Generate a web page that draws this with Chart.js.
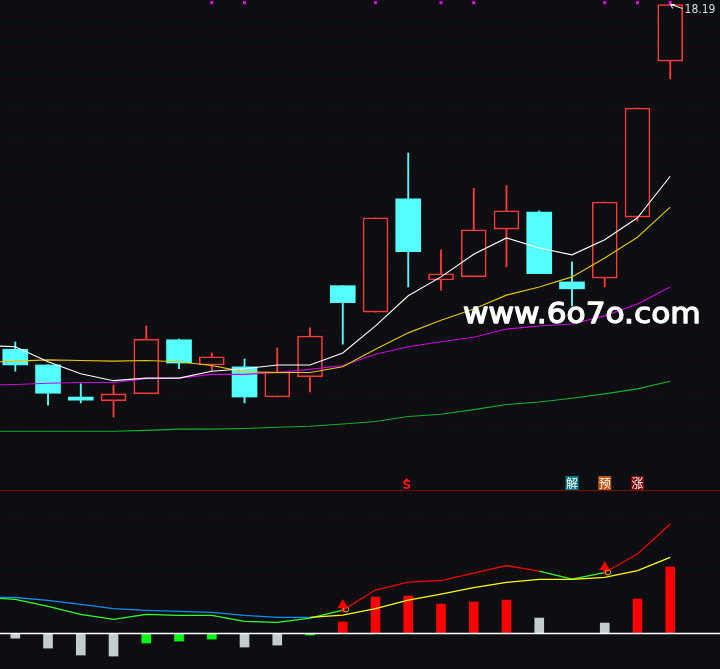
<!DOCTYPE html>
<html>
<head>
<meta charset="utf-8">
<title>K-line</title>
<script src="https://cdn.jsdelivr.net/npm/chart.js@4/dist/chart.umd.js"></script>
<style>
  html, body { margin: 0; padding: 0; background: #0d0e11; overflow: hidden; }
  canvas { display: block; }
</style>
</head>
<body>
<canvas id="kline" width="720" height="669"></canvas>
<script>
// === Data ===
const candleOpen  = [12.71, 12.46, 11.95, 11.89, 12.00, 12.86, 12.46, 12.43, 11.95, 12.27, 13.72, 13.30, 15.10, 13.81, 13.86, 14.62, 14.89, 13.78, 13.84, 14.81, 17.29];
const candleClose = [12.46, 12.01, 11.90, 12.00, 12.87, 12.49, 12.59, 11.95, 12.35, 12.92, 13.45, 14.80, 14.26, 13.91, 14.61, 14.91, 13.91, 13.67, 15.05, 16.545, 18.19];
const candleHigh  = [12.825, 12.46, 12.16, 12.14, 13.08, 12.87, 12.65, 12.555, 12.73, 13.05, 13.72, 14.80, 15.83, 14.29, 15.27, 15.31, 14.91, 14.10, 15.05, 16.545, 18.19];
const candleLow   = [12.36, 11.82, 11.855, 11.63, 12.00, 12.40, 12.36, 11.855, 11.95, 12.03, 12.79, 13.30, 13.70, 13.65, 13.86, 14.02, 13.91, 13.40, 13.70, 14.75, 17.01];

// moving averages start one bar before the first candle
const ma5  = [12.77, 12.75, 12.51, 12.32, 12.21, 12.25, 12.25, 12.36, 12.40, 12.46, 12.46, 12.65, 13.08, 13.56, 13.86, 14.22, 14.48, 14.32, 14.21, 14.45, 14.80, 15.46];
const ma10 = [12.50, 12.52, 12.54, 12.53, 12.52, 12.53, 12.51, 12.45, 12.35, 12.34, 12.34, 12.43, 12.71, 12.97, 13.17, 13.35, 13.57, 13.70, 13.86, 14.16, 14.49, 14.97];
const ma20 = [12.14, 12.15, 12.17, 12.18, 12.18, 12.24, 12.25, 12.31, 12.31, 12.34, 12.39, 12.45, 12.63, 12.75, 12.83, 12.90, 13.03, 13.08, 13.11, 13.24, 13.43, 13.70];
const ma60 = [11.405, 11.405, 11.405, 11.405, 11.405, 11.42, 11.44, 11.44, 11.45, 11.47, 11.485, 11.52, 11.56, 11.64, 11.675, 11.75, 11.83, 11.87, 11.93, 12.00, 12.08, 12.20];

const signalBars = [6, 7, 11, 13, 14, 18, 19, 20];
const signalLevel = 18.22;

const oscFast = [0.313, 0.296, 0.235, 0.166, 0.123, 0.166, 0.158, 0.158, 0.106, 0.097, 0.134, 0.203, 0.377, 0.446, 0.459, 0.524, 0.589, 0.541, 0.472, 0.528, 0.688, 0.948];
const oscSlow = [0.313, 0.312, 0.287, 0.253, 0.215, 0.201, 0.192, 0.184, 0.158, 0.140, 0.140, 0.160, 0.215, 0.290, 0.342, 0.397, 0.443, 0.469, 0.469, 0.487, 0.544, 0.660];

const histRed   = [null, null, null, null, null, null, null, null, null, null, 0.10, 0.316, 0.325, 0.255, 0.273, 0.29, null, null, null, 0.299, 0.576];
const histGrey  = [-0.04, -0.126, -0.186, -0.195, null, null, null, -0.117, -0.10, null, null, null, null, null, null, null, 0.134, null, 0.091, null, null];
const histGreen = [null, null, null, null, -0.082, -0.065, -0.048, null, null, -0.013, null, null, null, null, null, null, null, null, null, null, null];

const arrowBars = [10, 18];
const arrowHead = [0.247, 0.576];
const arrowTail = [0.186, 0.515];
const ringBars = [10.1, 18.1];
const ringLevel = [0.209, 0.53];

const osc_separator = 1.238;
const priceLabel = "18.19";
const watermark = "www.6o7o.com";
const badges = [
  { bar: 17, text: "解", color: "#0a7d84" },
  { bar: 18, text: "预", color: "#bf5410" },
  { bar: 19, text: "涨", color: "#7a0008" },
];
const dollarBar = 12;

// === Colours ===
const BG = "#0d0e11";
const UP = "#ff3a3a";
const DOWN = "#54ffff";
const GRID = "#3c0505";

const bars = candleOpen.map((_, i) => i);
const upBars = bars.filter((i) => candleClose[i] >= candleOpen[i]);
const downBars = bars.filter((i) => candleClose[i] < candleOpen[i]);

function wickData(list) {
  return list.map((i) => ({ x: i, y: [candleLow[i], candleHigh[i]] }));
}
function bodyData(list) {
  return list.map((i) => ({ x: i, y: [candleOpen[i], candleClose[i]] }));
}
// MA arrays begin at bar -1
function maData(values) {
  return values.map((v, i) => ({ x: i - 1, y: v }));
}
function maLine(label, values, color) {
  return {
    type: "line", label, data: maData(values), yAxisID: "price",
    borderColor: color, borderWidth: 1.1, pointRadius: 0, tension: 0, order: 2,
  };
}
function histBar(label, values, color) {
  return {
    label, data: values.map((v, i) => ({ x: i, y: v })), yAxisID: "osc",
    backgroundColor: color, barThickness: 9, grouped: false, order: 6,
  };
}
function levelLine(label, value, color, width) {
  return {
    type: "line", label, data: [{ x: -2, y: value }, { x: 23, y: value }], yAxisID: "osc",
    borderColor: color, borderWidth: width, pointRadius: 0, order: 4,
  };
}

const datasets = [
  { type: "scatter", label: "signal", yAxisID: "price", order: 0,
    data: signalBars.map((b) => ({ x: b, y: signalLevel })),
    pointStyle: "rect", pointRadius: 2.1, backgroundColor: "#ff00ff", borderWidth: 0 },
  { type: "scatter", label: "arrow", yAxisID: "osc", order: 0,
    data: arrowBars.map((b, i) => ({ x: b, y: arrowHead[i] })),
    pointStyle: "triangle", pointRadius: 6, backgroundColor: "#ff0000", borderWidth: 0 },
  { label: "arrow stem", yAxisID: "osc", order: 1, grouped: false, barThickness: 2, backgroundColor: "#ff0000",
    data: arrowBars.map((b, i) => ({ x: b, y: [arrowTail[i], arrowHead[i]] })) },
  { type: "scatter", label: "ring", yAxisID: "osc", order: 0,
    data: ringBars.map((b, i) => ({ x: b, y: ringLevel[i] })),
    pointStyle: "circle", pointRadius: 2.6, backgroundColor: "transparent", borderColor: "#d8c020", borderWidth: 1 },

  maLine("MA5", ma5, "#ffffff"),
  maLine("MA10", ma10, "#e6c800"),
  maLine("MA20", ma20, "#cc00e0"),
  maLine("MA60", ma60, "#12b030"),

  { type: "line", label: "slow", yAxisID: "osc", order: 2, borderWidth: 1.3, pointRadius: 0, tension: 0,
    data: maData(oscSlow),
    segment: {
      borderColor: (c) => (oscFast[c.p1DataIndex] >= oscSlow[c.p1DataIndex] ? "#ffff00" : "#0a90f0"),
    } },
  { type: "line", label: "fast", yAxisID: "osc", order: 3, borderWidth: 1.3, pointRadius: 0, tension: 0,
    data: maData(oscFast),
    segment: {
      borderColor: (c) => {
        const bar = c.p0DataIndex - 1;
        return (bar >= 10 && bar < 16) || bar >= 18 ? "#f00000" : "#30ff30";
      },
    } },

  histBar("hist up", histRed, "#ff0000"),
  histBar("hist grey", histGrey, "#c4cdcd"),
  histBar("hist green", histGreen, "#00ff14"),
  levelLine("zero", 0, "#ffffff", 1.5),
  levelLine("separator", osc_separator, "#700000", 1),

  { label: "up body", yAxisID: "price", order: 7, grouped: false, barThickness: 25,
    data: bodyData(upBars), backgroundColor: BG, borderColor: UP, borderWidth: 1.6, borderSkipped: false },
  { label: "down body", yAxisID: "price", order: 7, grouped: false, barThickness: 25,
    data: bodyData(downBars), backgroundColor: DOWN },
  { label: "up wick", yAxisID: "price", order: 8, grouped: false, barThickness: 1.2,
    data: wickData(upBars), backgroundColor: UP },
  { label: "down wick", yAxisID: "price", order: 8, grouped: false, barThickness: 1.2,
    data: wickData(downBars), backgroundColor: DOWN },
];

// === Texts on top of the marks ===
const overlayText = {
  id: "overlayText",
  afterDatasetsDraw(chart) {
    const { ctx, scales } = chart;
    const px = (b) => scales.x.getPixelForValue(b);
    ctx.save();

    // last price with its small arrow
    const hx = px(20) + 0.5;
    const hy = scales.price.getPixelForValue(candleHigh[20]);
    ctx.strokeStyle = "#ffffff";
    ctx.lineWidth = 1;
    ctx.beginPath();
    ctx.moveTo(hx, hy);
    ctx.lineTo(hx + 12, hy + 4);
    ctx.moveTo(hx, hy);
    ctx.lineTo(hx + 4, hy);
    ctx.moveTo(hx, hy);
    ctx.lineTo(hx + 2, hy + 4);
    ctx.stroke();
    ctx.fillStyle = "#cfdde6";
    ctx.font = '12px "DejaVu Sans"';
    ctx.textAlign = "left";
    ctx.textBaseline = "middle";
    ctx.fillText(priceLabel, 684.5, 9.5, 31);

    // watermark, regular weight thickened a little and stretched sideways
    ctx.save();
    ctx.translate(463, 323);
    ctx.scale(1.077, 1);
    ctx.fillStyle = "#ffffff";
    ctx.strokeStyle = "#ffffff";
    ctx.lineWidth = 1.3;
    ctx.lineJoin = "round";
    ctx.font = '29px "DejaVu Sans"';
    ctx.textBaseline = "alphabetic";
    ctx.fillText(watermark, 0, 0);
    ctx.strokeText(watermark, 0, 0);
    ctx.restore();

    // badges
    ctx.font = '12px "Noto Sans CJK SC"';
    ctx.textAlign = "center";
    ctx.textBaseline = "middle";
    badges.forEach((b) => {
      const x = px(b.bar);
      ctx.fillStyle = b.color;
      ctx.fillRect(x - 6.5, 476, 13, 14);
      ctx.fillStyle = "#ffffff";
      ctx.fillText(b.text, x, 483);
    });

    // dollar mark
    const dx = px(dollarBar) - 1.5;
    ctx.fillStyle = "#ff1010";
    ctx.beginPath();
    ctx.moveTo(dx, 478);
    ctx.lineTo(dx + 4, 482);
    ctx.lineTo(dx - 4, 482);
    ctx.fill();
    ctx.font = 'bold 12px "DejaVu Sans"';
    ctx.fillText("S", dx, 486);
    ctx.restore();
  },
};

// === Chart ===
new Chart(document.getElementById("kline"), {
  type: "bar",
  data: { datasets },
  plugins: [overlayText],
  options: {
    responsive: false,
    animation: false,
    layout: { padding: 0, autoPadding: false },
    plugins: { legend: false, tooltip: { enabled: false } },
    parsing: { xAxisKey: "x", yAxisKey: "y" },
    scales: {
      x: { type: "linear", display: false, offset: false, min: -0.467, max: 21.52 },
      price: {
        position: "left", min: 7.626, max: 18.262,
        ticks: { display: false, stepSize: 0.5 },
        border: { display: false, dash: [2, 3] },
        grid: {
          drawTicks: false, lineWidth: 1,
          color: (c) => (c.tick.value >= 11.49 && c.tick.value <= 18.01 ? GRID : "transparent"),
        },
      },
      osc: {
        position: "right", min: -0.307, max: 5.485,
        ticks: { display: false, stepSize: 0.5 },
        border: { display: false, dash: [2, 3] },
        grid: {
          drawTicks: false, lineWidth: 1,
          color: (c) => (c.tick.value === 0.5 || c.tick.value === 1 ? GRID : "transparent"),
        },
      },
    },
  },
});
</script>
</body>
</html>
